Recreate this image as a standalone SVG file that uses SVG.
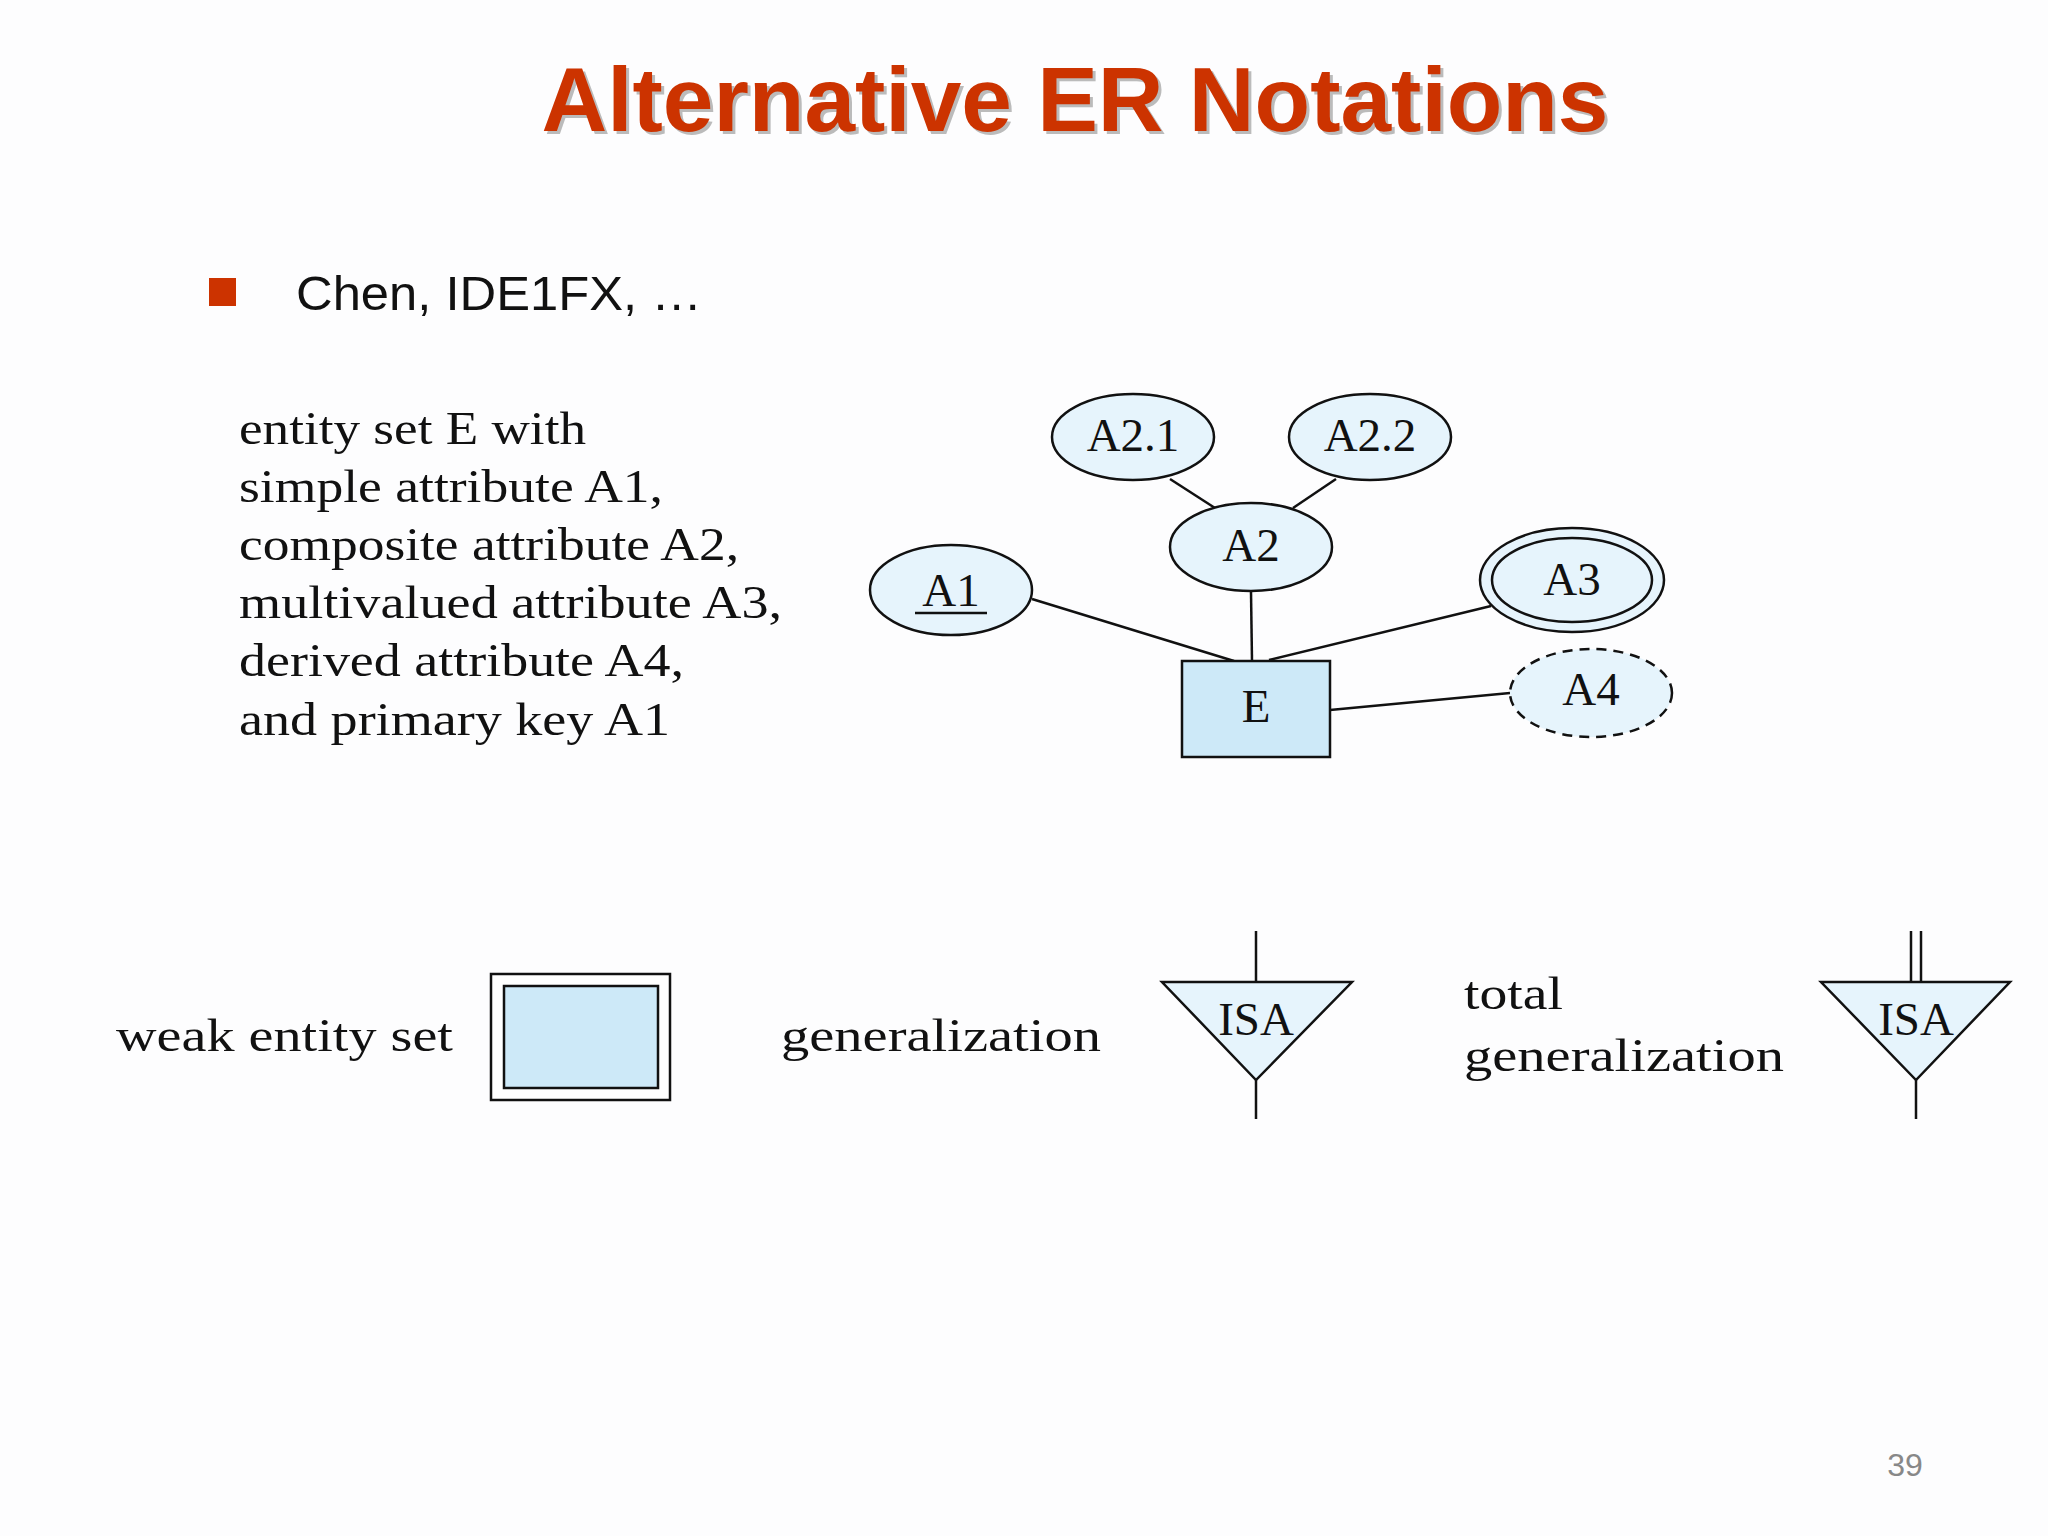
<svg xmlns="http://www.w3.org/2000/svg" width="2048" height="1536" viewBox="0 0 2048 1536">
<style>
.s{font-family:"Liberation Serif",serif;font-size:47px;fill:#111}
.n{fill:#e6f4fc;stroke:#111;stroke-width:2.5}
.l{stroke:#111;stroke-width:2.5;fill:none}
.c{text-anchor:middle}
</style>
<rect width="2048" height="1536" fill="#fdfdfe"/>
<text x="1078" y="134" text-anchor="middle" font-family="Liberation Sans,Arial,sans-serif" font-weight="bold" font-size="91" fill="#bbb">Alternative ER Notations</text>
<text x="1075" y="131" text-anchor="middle" font-family="Liberation Sans,Arial,sans-serif" font-weight="bold" font-size="91" fill="#cc3300">Alternative ER Notations</text>
<rect x="209" y="278" width="27" height="28" fill="#cc3300"/>
<text x="296" y="310" font-family="Liberation Sans,Arial,sans-serif" font-size="49" fill="#111" textLength="406" lengthAdjust="spacingAndGlyphs">Chen, IDE1FX, …</text>
<g class="s">
<text x="239" y="444" textLength="347" lengthAdjust="spacingAndGlyphs">entity set E with</text>
<text x="239" y="502" textLength="424" lengthAdjust="spacingAndGlyphs">simple attribute A1,</text>
<text x="239" y="560" textLength="500" lengthAdjust="spacingAndGlyphs">composite attribute A2,</text>
<text x="239" y="618" textLength="543" lengthAdjust="spacingAndGlyphs">multivalued attribute A3,</text>
<text x="239" y="676" textLength="445" lengthAdjust="spacingAndGlyphs">derived attribute A4,</text>
<text x="239" y="735" textLength="431" lengthAdjust="spacingAndGlyphs">and primary key A1</text>
</g>
<g id="connectors" class="l">
<line x1="1170" y1="479" x2="1215" y2="508"/>
<line x1="1336" y1="479" x2="1293" y2="508"/>
<line x1="1251" y1="592" x2="1252" y2="661"/>
<line x1="1032" y1="599" x2="1234" y2="661"/>
<line x1="1491" y1="606" x2="1269" y2="660"/>
<line x1="1510" y1="693" x2="1330" y2="710"/>
</g>
<g id="A21"><ellipse class="n" cx="1133" cy="437" rx="81" ry="43"/><text class="s c" x="1133" y="451">A2.1</text></g>
<g id="A22"><ellipse class="n" cx="1370" cy="437" rx="81" ry="43"/><text class="s c" x="1370" y="451">A2.2</text></g>
<g id="A2"><ellipse class="n" cx="1251" cy="547" rx="81" ry="44"/><text class="s c" x="1251" y="561">A2</text></g>
<g id="A1"><ellipse class="n" cx="951" cy="590" rx="81" ry="45"/><text class="s c" x="951" y="606">A1</text><line class="l" x1="915" y1="613" x2="987" y2="613"/></g>
<g id="A3"><ellipse class="n" cx="1572" cy="580" rx="92" ry="52"/><ellipse class="n" cx="1572" cy="580" rx="80" ry="42"/><text class="s c" x="1572" y="595">A3</text></g>
<g id="A4"><ellipse class="n" cx="1591" cy="693" rx="81" ry="44" stroke-dasharray="10,7"/><text class="s c" x="1591" y="705">A4</text></g>
<g id="E"><rect x="1182" y="661" width="148" height="96" fill="#cde9f8" stroke="#111" stroke-width="2.5"/><text class="s c" x="1256" y="722">E</text></g>
<text class="s" x="116" y="1051" textLength="337" lengthAdjust="spacingAndGlyphs">weak entity set</text>
<g id="weak"><rect x="491" y="974" width="179" height="126" fill="#fff" stroke="#111" stroke-width="2.5"/><rect x="504" y="986" width="154" height="102" fill="#cde9f8" stroke="#111" stroke-width="2.5"/></g>
<text class="s" x="781" y="1051" textLength="320" lengthAdjust="spacingAndGlyphs">generalization</text>
<g id="isa1"><line class="l" x1="1256" y1="931" x2="1256" y2="982"/><polygon class="n" points="1162,982 1352,982 1256,1080"/><line class="l" x1="1256" y1="1080" x2="1256" y2="1119"/><text class="s c" x="1256" y="1035">ISA</text></g>
<text class="s" x="1464" y="1009" textLength="99" lengthAdjust="spacingAndGlyphs">total</text>
<text class="s" x="1464" y="1071" textLength="320" lengthAdjust="spacingAndGlyphs">generalization</text>
<g id="isa2"><line class="l" x1="1911" y1="931" x2="1911" y2="982"/><line class="l" x1="1921" y1="931" x2="1921" y2="982"/><polygon class="n" points="1821,982 2010,982 1916,1080"/><line class="l" x1="1916" y1="1080" x2="1916" y2="1119"/><text class="s c" x="1916" y="1035">ISA</text></g>
<text x="1905" y="1476" text-anchor="middle" font-family="Liberation Sans,Arial,sans-serif" font-size="32" fill="#888">39</text>
</svg>
